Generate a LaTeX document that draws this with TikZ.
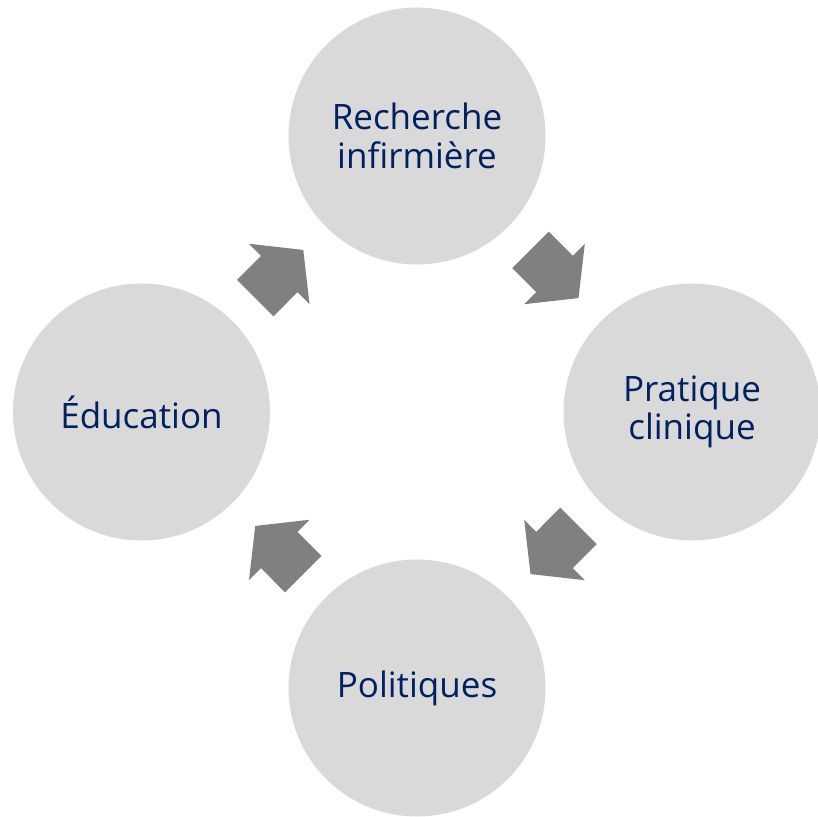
\documentclass[tikz,border=0pt]{standalone}
\usepackage{fontspec}
\setmainfont{Open Sans}
\usetikzlibrary{calc}

\definecolor{stagegray}{HTML}{D9D9D9}
\definecolor{arrowgray}{HTML}{808080}
\definecolor{labelblue}{HTML}{002060}

\tikzset{
  stage/.style={circle, fill=stagegray, minimum size=257pt, inner sep=0pt,
    align=center, text=labelblue, font=\fontsize{35}{38.4}\selectfont},
  cyclearrow/.pic={
    \fill[arrowgray] (-34,-25.8) -- (0,-25.8) -- (0,-42.8) -- (34,0)
      -- (0,42.8) -- (0,25.8) -- (-34,25.8) -- cycle;
  }
}

\begin{document}
\begin{tikzpicture}[x=1pt,y=1pt]
        \useasboundingbox (0,0) rectangle (818,816);
        \clip (0,0) rectangle (818,816);
        % the four stages of the cycle
        \node[stage] (rech) at (417,680) {Recherche\\infirmière};
        \node[stage] (prat) at (692,404) {Pratique\\clinique};
        \node[stage] (poli) at (417,128) {Politiques};
        \node[stage] (educ) at (141.5,404) {Éducation};
        % block arrows half way between two stages
        \foreach \a/\b in {rech/prat, prat/poli, poli/educ, educ/rech}
          \path let \p1=($(\b)-(\a)$), \n1={atan2(\y1,\x1)} in
            ($(\a)!0.5!(\b)$) pic[rotate=\n1] {cyclearrow};
\end{tikzpicture}
\end{document}
